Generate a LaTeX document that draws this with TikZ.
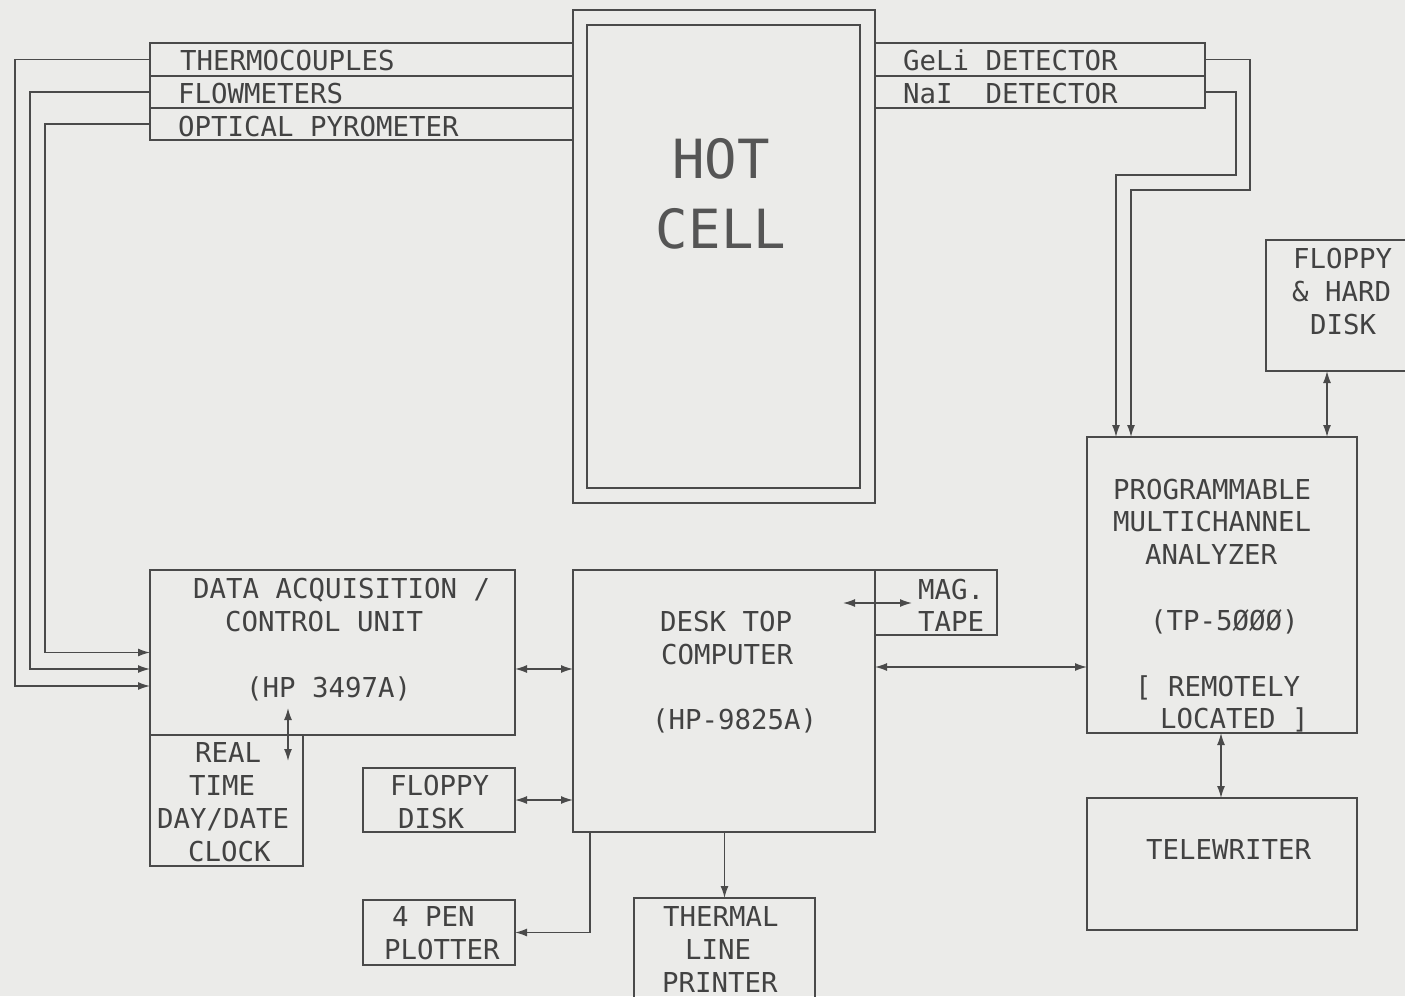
\documentclass[tikz,border=0pt]{standalone}
\usepackage{fontspec}
\newfontfamily\plotfont{DejaVu Sans Mono}
\usetikzlibrary{arrows.meta}
\definecolor{paper}{HTML}{EBEBE9}
\definecolor{ink}{HTML}{4A4A4A}
\definecolor{txt}{HTML}{424242}
\definecolor{bigtxt}{HTML}{555555}
\begin{document}
\begin{tikzpicture}[x=1pt,y=-1pt,
 box/.style={draw=ink,line width=1.4pt,inner sep=0pt,outer sep=0pt,anchor=north west},
 lbl/.style={inner sep=0pt,anchor=west,text height=20pt,text depth=0pt,text=txt,font=\plotfont\fontsize{27.4}{30}\selectfont},
 big/.style={inner sep=0pt,text height=40pt,text depth=0pt,text=bigtxt,font=\plotfont\fontsize{54}{60}\selectfont},
 sig/.style={draw=ink,line width=1.4pt,-{Latex[length=12pt,width=8pt]}},
 bi/.style={draw=ink,line width=1.4pt,{Latex[length=12pt,width=8pt]}-{Latex[length=12pt,width=8pt]}}]
\useasboundingbox (0,0) rectangle (1405,996);
\fill[paper] (0,0) rectangle (1405,996);

% boxes
\node[box,minimum width=302pt,minimum height=493pt] (hoto) at (573,10) {};
\node[box,minimum width=273pt,minimum height=463pt] (hoti) at (587,25) {};
\node[box,minimum width=423pt,minimum height=33pt] (therm) at (150,43) {};
\node[box,minimum width=423pt,minimum height=32pt] (flow) at (150,76) {};
\node[box,minimum width=423pt,minimum height=32pt] (opt) at (150,108) {};
\node[box,minimum width=330pt,minimum height=33pt] (geli) at (875,43) {};
\node[box,minimum width=330pt,minimum height=32pt] (nai) at (875,76) {};
\node[box,minimum width=365pt,minimum height=165pt] (daq) at (150,570) {};
\node[box,minimum width=153pt,minimum height=131pt] (clk) at (150,735) {};
\node[box,minimum width=302pt,minimum height=262pt] (comp) at (573,570) {};
\node[box,minimum width=122pt,minimum height=65pt] (mag) at (875,570) {};
\node[box,minimum width=152pt,minimum height=64pt] (flop) at (363,768) {};
\node[box,minimum width=152pt,minimum height=65pt] (plot) at (363,900) {};
\node[box,minimum width=181pt,minimum height=110pt] (prn) at (634,898) {};
\node[box,minimum width=270pt,minimum height=296pt] (mca) at (1087,437) {};
\node[box,minimum width=160pt,minimum height=131pt] (fhd) at (1266,240) {};
\node[box,minimum width=270pt,minimum height=132pt] (tw) at (1087,798) {};

% labels
\node[big] (thot) at (721,158) {HOT};
\node[big] (tcell) at (721,228) {CELL};
\node[lbl] (t1) at (180,60) {THERMOCOUPLES};
\node[lbl] (t2) at (178,93) {FLOWMETERS};
\node[lbl] (t3) at (178,126) {OPTICAL PYROMETER};
\node[lbl] (t4) at (903,60) {GeLi DETECTOR};
\node[lbl] (t5) at (903,93) {NaI\ \ DETECTOR};
\node[lbl] (t6) at (193,588) {DATA ACQUISITION /};
\node[lbl] (t7) at (225,621) {CONTROL UNIT};
\node[lbl] (t8) at (246,687) {(HP 3497A)};
\node[lbl] (t9) at (195,752) {REAL};
\node[lbl] (t10) at (189,785) {TIME};
\node[lbl] (t11) at (157,818) {DAY/DATE};
\node[lbl] (t12) at (188,851) {CLOCK};
\node[lbl] (t13) at (390,785) {FLOPPY};
\node[lbl] (t14) at (398,818) {DISK};
\node[lbl] (t15) at (660,621) {DESK TOP};
\node[lbl] (t16) at (661,654) {COMPUTER};
\node[lbl] (t17) at (652,719) {(HP-9825A)};
\node[lbl] (t18) at (918,589) {MAG.};
\node[lbl] (t19) at (918,621) {TAPE};
\node[lbl] (t20) at (392,916) {4 PEN};
\node[lbl] (t21) at (384,949) {PLOTTER};
\node[lbl] (t22) at (663,916) {THERMAL};
\node[lbl] (t23) at (685,949) {LINE};
\node[lbl] (t24) at (662,982) {PRINTER};
\node[lbl] (t25) at (1113,489) {PROGRAMMABLE};
\node[lbl] (t26) at (1113,521) {MULTICHANNEL};
\node[lbl] (t27) at (1145,554) {ANALYZER};
\node[lbl] (t28) at (1150,620) {(TP-5ØØØ)};
\node[lbl] (t29) at (1135,686) {[ REMOTELY};
\node[lbl] (t30) at (1160,718) {LOCATED ]};
\node[lbl] (t31) at (1293,258) {FLOPPY};
\node[lbl] (t32) at (1292,291) {\& HARD};
\node[lbl] (t33) at (1310,324) {DISK};
\node[lbl] (t34) at (1146,849) {TELEWRITER};

% sensor wires
\draw[sig] (therm.west) -| (15,686) -- (daq.west |- 15,686);
\draw[sig] (flow.west) -| (30,669) -- (daq.west |- 30,669);
\draw[sig] (opt.west) -| (45,652.5) -- (daq.west);
\draw[sig] (geli.east) -| (1250,190) -| (1131,0 |- mca.north);
\draw[sig] (nai.east) -| (1236,175) -| (1116,0 |- mca.north);

% bidirectional links
\coordinate (c1) at (288,708);
\coordinate (c2) at (288,761);
\draw[bi] (c1) -- (c2);
\draw[bi] (daq.east |- 0,669) -- (comp.west |- 0,669);
\draw[bi] (flop.east) -- (comp.west |- flop.east);
\coordinate (m1) at (843,603);
\coordinate (m2) at (912,603);
\draw[bi] (m1) -- (m2);
\draw[bi] (comp.east |- 0,667) -- (mca.west |- 0,667);
\draw[bi] (1327,0 |- fhd.south) -- (1327,0 |- mca.north);
\draw[bi] (1221,0 |- mca.south) -- (1221,0 |- tw.north);

% outputs
\draw[sig] (590,0 |- comp.south) |- (plot.east);
\draw[sig] (prn.north |- comp.south) -- (prn.north);
\end{tikzpicture}
\end{document}
